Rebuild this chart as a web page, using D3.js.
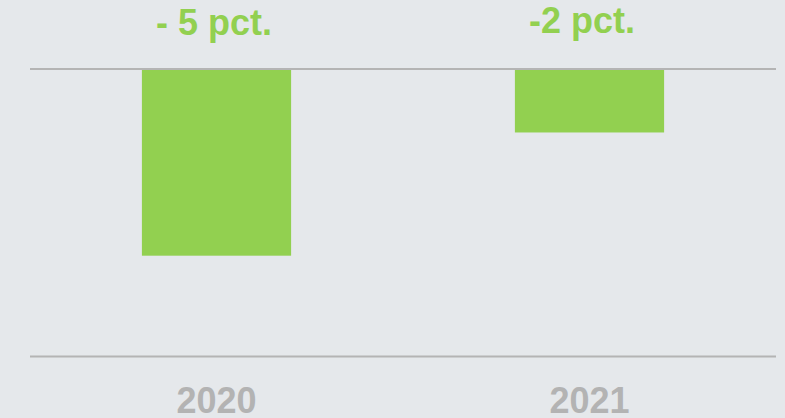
<!DOCTYPE html>
<html>
<head>
<meta charset="utf-8">
<script src="https://cdn.jsdelivr.net/npm/d3@7"></script>
<style>
  html, body { margin: 0; padding: 0; background: #e5e8eb; }
  svg { display: block; }
</style>
</head>
<body>
<div id="chart"></div>
<script>
var years = ['2020', '2021']
var change = [-5, -1.7]
var labels = ['- 5 pct.', '-2 pct.']
var yMin = -7.7

var width = 785
var height = 418
var font = '"Liberation Sans", Arial, sans-serif'

var svg = d3.select('#chart')
  .append('svg')
  .attr('width', width)
  .attr('height', height)

svg.append('rect')
  .attr('width', width)
  .attr('height', height)
  .attr('fill', '#e5e8eb')

var x = d3.scaleBand()
  .domain(years)
  .range([30, 776])
  .paddingInner(0.6)
  .paddingOuter(0.3)

var y = d3.scaleLinear()
  .domain([0, yMin])
  .range([69, 356.5])

// bars hang down from zero
svg.selectAll('rect.bar')
  .data(years)
  .enter()
  .append('rect')
  .attr('class', 'bar')
  .attr('x', function(d) { return x(d) })
  .attr('width', x.bandwidth())
  .attr('y', y(0))
  .attr('height', function(d, i) { return y(change[i]) - y(0) })
  .attr('fill', '#92d050')

// zero line and bottom line
svg.append('line')
  .attr('x1', 30).attr('x2', 776)
  .attr('y1', y(0)).attr('y2', y(0))
  .attr('stroke', '#b4b4b4')
  .attr('stroke-width', 2)

svg.append('line')
  .attr('x1', 30).attr('x2', 776)
  .attr('y1', y(yMin)).attr('y2', y(yMin))
  .attr('stroke', '#b4b4b4')
  .attr('stroke-width', 2)

// value labels above
svg.selectAll('text.value')
  .data(labels)
  .enter()
  .append('text')
  .attr('class', 'value')
  .attr('x', function(d, i) { return x(years[i]) + 14 })
  .attr('y', function(d, i) { return i === 0 ? 35 : 33 })
  .attr('font-family', font)
  .attr('font-weight', 'bold')
  .attr('font-size', 36)
  .attr('fill', '#92d050')
  .text(function(d) { return d })

// year labels
svg.selectAll('text.year')
  .data(years)
  .enter()
  .append('text')
  .attr('class', 'year')
  .attr('x', function(d) { return x(d) + x.bandwidth() / 2 })
  .attr('y', 413)
  .attr('text-anchor', 'middle')
  .attr('font-family', font)
  .attr('font-weight', 'bold')
  .attr('font-size', 36)
  .attr('fill', '#b3b3b3')
  .text(function(d) { return d })
</script>
</body>
</html>
